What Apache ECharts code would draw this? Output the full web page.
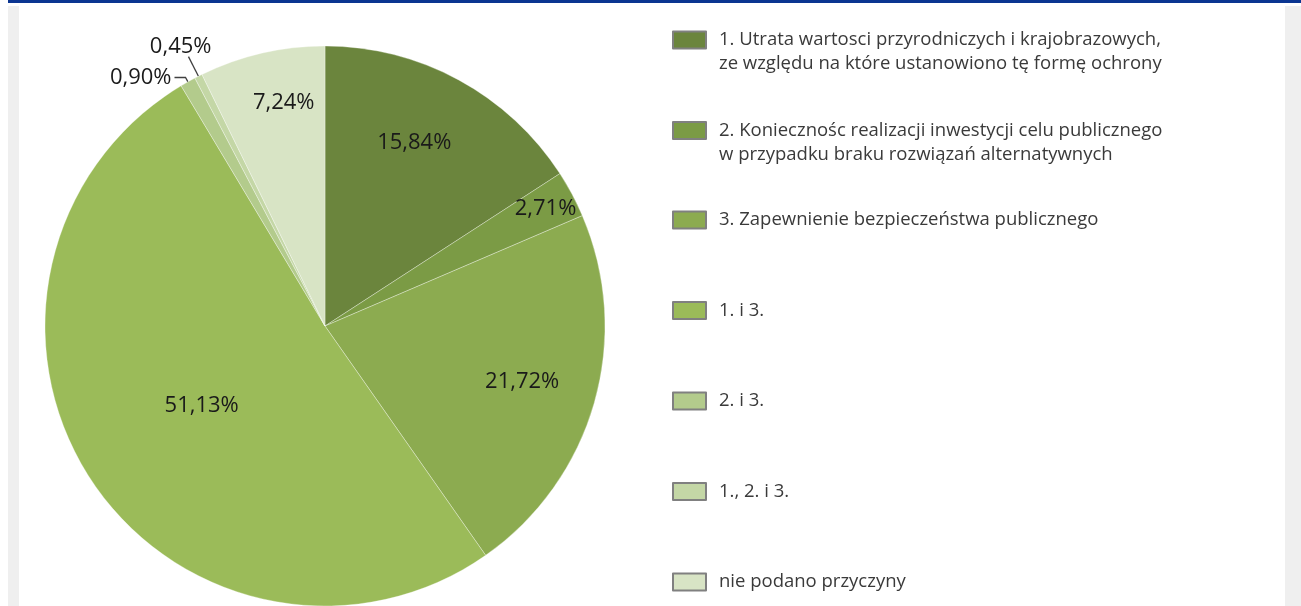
<!DOCTYPE html>
<html>
<head>
<meta charset="utf-8">
<script src="https://cdn.jsdelivr.net/npm/echarts@6/dist/echarts.min.js"></script>
<style>
  html, body { margin: 0; padding: 0; background: #fff; }
  #chart { width: 1301px; height: 606px; }
</style>
</head>
<body>
<div id="chart"></div>
<script>
// dane z wykresu (udział procentowy przyczyn)
const categories = [
  '1. Utrata wartosci przyrodniczych i krajobrazowych,\nze względu na które ustanowiono tę formę ochrony',
  '2. Koniecznośc realizacji inwestycji celu publicznego\nw przypadku braku rozwiązań alternatywnych',
  '3. Zapewnienie bezpieczeństwa publicznego',
  '1. i 3.',
  '2. i 3.',
  '1., 2. i 3.',
  'nie podano przyczyny'
];
const shares = [15.84, 2.71, 21.72, 51.13, 0.90, 0.45, 7.24];

const colors = ['#6b853d', '#7b9b45', '#8cab50', '#9bbb59', '#b3cb8c', '#c4d7a6', '#d8e4c5'];
// odległość etykiety od środka (px), null = etykieta zewnętrzna
const labelRadius = [null, 250, 205, 147, null, null, null];
// ręczne przesunięcia etykiet (dx, dy)
const labelShift = { 0: [21, -58], 5: [26, -10], 6: [-9, -84] };
const lineLen = { 4: [5, 11], 5: [22, 0] };
const outsideIdx = [4, 5];

const pieCenter = [325, 326];
const chart = echarts.init(document.getElementById('chart'));

const fmt = v => v.toFixed(2).replace('.', ',') + '%';

const legends = categories.map((name, i) => {
  const twoLines = name.indexOf('\n') >= 0;
  const c = 39 + 90.5 * i;
  return {
    data: [name],
    orient: 'vertical',
    left: 672,
    top: c - 12,
    padding: 0,
    // przy dwóch wierszach ikonka na wysokości pierwszego wiersza
    icon: twoLines ? 'path://M0,0M0,48M0,3.5h33v17h-33z' : 'rect',
    itemWidth: 33,
    itemHeight: twoLines ? 48 : 17,
    selectedMode: false,
    itemStyle: { borderColor: '#808080', borderWidth: 2 },
    textStyle: {
      fontFamily: 'Open Sans',
      fontSize: 18.5,
      lineHeight: 24,
      color: '#3a3a3a',
      padding: [0, 0, 0, 8]
    }
  };
});

chart.setOption({
  animation: false,
  backgroundColor: '#fff',
  color: colors,
  graphic: [
    { type: 'rect', left: 8, top: 0, shape: { width: 1293, height: 3 }, style: { fill: '#0b3591' }, silent: true },
    { type: 'rect', left: 8, top: 6, shape: { width: 11, height: 600 }, style: { fill: '#efefef' }, silent: true },
    { type: 'rect', left: 1285, top: 6, shape: { width: 16, height: 600 }, style: { fill: '#efefef' }, silent: true }
  ],
  legend: legends,
  series: [{
    type: 'pie',
    center: pieCenter,
    radius: 280,
    startAngle: 90,
    clockwise: true,
    avoidLabelOverlap: false,
    itemStyle: { borderColor: 'rgba(255,255,255,0.4)', borderWidth: 0.8 },
    label: {
      fontFamily: 'Open Sans',
      fontSize: 22,
      color: '#1a1a1a',
      formatter: p => fmt(p.value)
    },
    labelLine: { lineStyle: { color: '#404040', width: 1.3 } },
    labelLayout: function (p) {
      const shift = labelShift[p.dataIndex];
      if (shift) return { dx: shift[0], dy: shift[1] };
      const R = labelRadius[p.dataIndex];
      if (R == null) return {};
      const lx = p.labelRect.x + p.labelRect.width / 2 - pieCenter[0];
      const ly = p.labelRect.y + p.labelRect.height / 2 - pieCenter[1];
      const d = Math.sqrt(lx * lx + ly * ly);
      return { dx: lx * (R / d - 1), dy: ly * (R / d - 1) };
    },
    data: categories.map((name, i) => {
      const outside = outsideIdx.indexOf(i) >= 0;
      return {
        name: name,
        value: shares[i],
        label: { position: outside ? 'outside' : 'inside', distanceToLabelLine: 3 },
        labelLine: outside
          ? { show: true, length: lineLen[i][0], length2: lineLen[i][1], smooth: false }
          : { show: false }
      };
    })
  }]
});
</script>
</body>
</html>
